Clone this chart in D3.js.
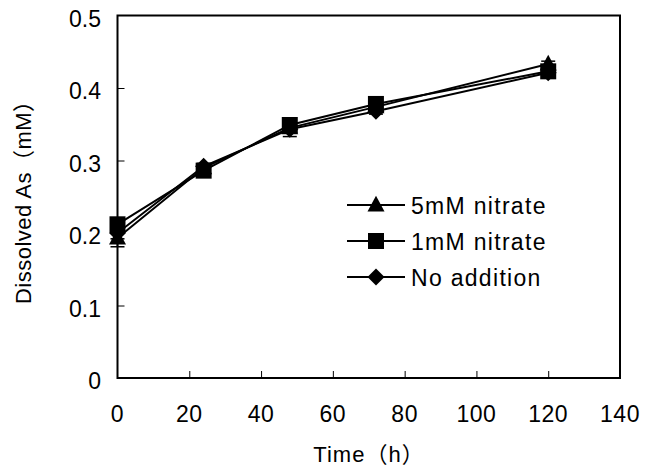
<!DOCTYPE html>
<html>
<head>
<meta charset="utf-8">
<script src="https://cdn.jsdelivr.net/npm/d3@7"></script>
<style>
body { margin: 0; background: #fff; }
text { font-family: "Liberation Sans", "Noto Sans CJK JP", sans-serif; fill: #000; }
</style>
</head>
<body>
<svg id="chart" width="646" height="476"></svg>
<script>
var times = [0, 24, 48, 72, 120];
var seriesNames = ["5mM nitrate", "1mM nitrate", "No addition"];
var nitrate5 = [0.193, 0.290, 0.345, 0.374, 0.433];
var nitrate1 = [0.212, 0.286, 0.349, 0.378, 0.423];
var noAddition = [0.200, 0.292, 0.343, 0.368, 0.421];
var err5 = [0.012, 0.004, 0.004, 0.004, 0.004];
var err1 = [0.006, 0.003, 0.004, 0.004, 0.003];
var errNone = [0.008, 0.004, 0.010, 0.004, 0.003];
var xTicks = [0, 20, 40, 60, 80, 100, 120, 140];
var yTicks = [0, 0.1, 0.2, 0.3, 0.4, 0.5];

var series = [
    { name: seriesNames[0], vals: nitrate5, errs: err5 },
    { name: seriesNames[1], vals: nitrate1, errs: err1 },
    { name: seriesNames[2], vals: noAddition, errs: errNone }
];

// marker shapes (half-size s)
function markerPath(k, s) {
    if (k === 0) return 'M0,' + (-s * 1.1) + 'L' + s + ',' + (s * 0.75) + 'L' + (-s) + ',' + (s * 0.75) + 'Z';
    if (k === 1) return 'M' + (-s) + ',' + (-s) + 'H' + s + 'V' + s + 'H' + (-s) + 'Z';
    return 'M0,' + (-s) + 'L' + s + ',0L0,' + s + 'L' + (-s) + ',0Z';
}
var markSize = [8.5, 8, 8.5];

var plotL = 117.5, plotR = 620, plotT = 15.5, plotB = 378;
var fs = '23px';

var x = d3.scaleLinear().domain([0, 140]).range([plotL, plotR]);
var y = d3.scaleLinear().domain([0, 0.5]).range([plotB, plotT]);

var svg = d3.select('#chart');

// ticks (inward)
var xAxis = d3.axisTop(x).tickValues(xTicks.slice(1, -1)).tickSize(7).tickFormat("");
svg.append('g').attr('transform', 'translate(0,' + plotB + ')').call(xAxis)
    .call(g => g.select('.domain').remove())
    .selectAll('line').attr('stroke', '#000').attr('stroke-width', 1);
var yAxis = d3.axisRight(y).tickValues(yTicks.slice(1, -1)).tickSize(7).tickFormat("");
svg.append('g').attr('transform', 'translate(' + plotL + ',0)').call(yAxis)
    .call(g => g.select('.domain').remove())
    .selectAll('line').attr('stroke', '#000').attr('stroke-width', 1);

// frame
svg.append('rect')
    .attr('x', plotL).attr('y', plotT)
    .attr('width', plotR - plotL).attr('height', plotB - plotT)
    .attr('fill', 'none').attr('stroke', '#000').attr('stroke-width', 2);

// tick labels
svg.selectAll('.xlab').data(xTicks).enter().append('text')
    .attr('class', 'xlab')
    .attr('x', d => x(d))
    .attr('y', 422)
    .attr('text-anchor', 'middle')
    .style('font-size', fs)
    .style('letter-spacing', '0.5px')
    .text(d => d);

svg.selectAll('.ylab').data(yTicks).enter().append('text')
    .attr('class', 'ylab')
    .attr('x', 101)
    .attr('y', d => y(d) + 11)
    .attr('text-anchor', 'end')
    .style('font-size', fs)
    .text(d => d);

// axis titles
svg.append('text')
    .attr('x', 369).attr('y', 462)
    .attr('text-anchor', 'middle')
    .style('font-size', '22px')
    .style('letter-spacing', '1px')
    .text('Time\uFF08h\uFF09');

svg.append('text')
    .attr('transform', 'translate(31,' + ((plotT + plotB) / 2) + ') rotate(-90)')
    .attr('text-anchor', 'middle')
    .style('font-size', '22px')
    .style('letter-spacing', '0.5px')
    .text('Dissolved As\uFF08mM\uFF09');

var line = d3.line().x((d, i) => x(times[i])).y(d => y(d));

series.forEach(function (s, k) {
    // error bars
    times.forEach(function (t, i) {
        var lo = y(s.vals[i] - s.errs[i]), hi = y(s.vals[i] + s.errs[i]);
        svg.append('line').attr('x1', x(t)).attr('x2', x(t)).attr('y1', lo).attr('y2', hi)
            .attr('stroke', '#000').attr('stroke-width', 1.5);
        [lo, hi].forEach(function (yy) {
            svg.append('line').attr('x1', x(t) - 7).attr('x2', x(t) + 7).attr('y1', yy).attr('y2', yy)
                .attr('stroke', '#000').attr('stroke-width', 1.5);
        });
    });
    svg.append('path').datum(s.vals)
        .attr('d', line)
        .attr('fill', 'none').attr('stroke', '#000').attr('stroke-width', 2);
});

series.forEach(function (s, k) {
    svg.selectAll('.m' + k).data(s.vals).enter().append('path')
        .attr('class', 'm' + k)
        .attr('transform', (d, i) => 'translate(' + x(times[i]) + ',' + y(d) + ')')
        .attr('d', markerPath(k, markSize[k]))
        .attr('fill', '#000');
});

// legend
var legY = [205, 241, 277];
series.forEach(function (s, k) {
    var g = svg.append('g').attr('transform', 'translate(0,' + legY[k] + ')');
    g.append('line').attr('x1', 347).attr('x2', 405).attr('y1', 0).attr('y2', 0)
        .attr('stroke', '#000').attr('stroke-width', 2);
    g.append('path').attr('transform', 'translate(376,0)')
        .attr('d', markerPath(k, markSize[k])).attr('fill', '#000');
    g.append('text').attr('x', 411).attr('y', 9)
        .style('font-size', fs)
        .style('letter-spacing', '1.3px')
        .text(s.name);
});
</script>
</body>
</html>
